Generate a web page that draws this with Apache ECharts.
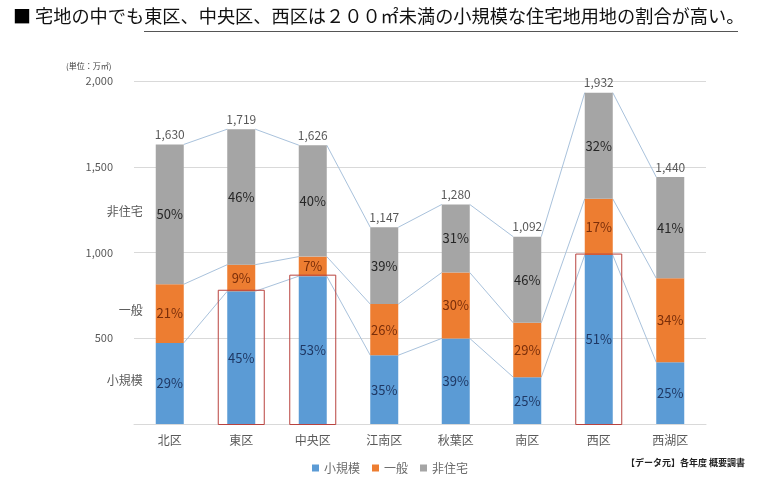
<!DOCTYPE html>
<html>
<head>
<meta charset="utf-8">
<script src="https://cdn.jsdelivr.net/npm/echarts@6/dist/echarts.min.js"></script>
<style>
  html, body { margin: 0; padding: 0; background: #fff; }
  #chart { width: 780px; height: 484px; }
</style>
</head>
<body>
<div id="chart"></div>
<script>
// 区ごとの宅地面積（単位：万㎡）
const categories = ['北区', '東区', '中央区', '江南区', '秋葉区', '南区', '西区', '西湖区']
const totals = [1630, 1719, 1626, 1147, 1280, 1092, 1932, 1440]
const smallVals = [473, 774, 862, 401, 499, 273, 985, 360]
const generalVals = [342, 155, 114, 298, 384, 317, 328, 490]
const nonResVals = [815, 790, 650, 448, 397, 502, 619, 590]
const smallPct = [29, 45, 53, 35, 39, 25, 51, 25]
const generalPct = [21, 9, 7, 26, 30, 29, 17, 34]
const nonResPct = [50, 46, 40, 39, 31, 46, 32, 41]
const highlightIdx = [1, 2, 6]
const seriesNames = ['小規模', '一般', '非住宅']

const FONT = '"Noto Sans CJK JP", "Noto Sans", sans-serif'
const BAR_W = 28

const chart = echarts.init(document.getElementById('chart'))

function pctLabel(arr, color) {
  return {
    show: true,
    position: 'inside',
    fontFamily: FONT,
    fontSize: 13,
    color: color,
    formatter: p => arr[p.dataIndex] + '%'
  }
}

// 系列線（棒と棒をつなぐ線）
function renderConnectors(params, api) {
  const i = api.value(0)
  const levels = [
    [smallVals[i], smallVals[i + 1]],
    [smallVals[i] + generalVals[i], smallVals[i + 1] + generalVals[i + 1]],
    [totals[i], totals[i + 1]]
  ]
  const children = levels.map(lv => {
    const a = api.coord([i, lv[0]])
    const b = api.coord([i + 1, lv[1]])
    return {
      type: 'line',
      shape: { x1: a[0] + BAR_W / 2, y1: a[1], x2: b[0] - BAR_W / 2, y2: b[1] },
      style: { stroke: '#A9C2DC', lineWidth: 1 }
    }
  })
  return { type: 'group', children: children }
}

// 赤枠
function renderBoxes(params, api) {
  const i = api.value(0)
  const top = api.coord([i, smallVals[i]])
  const base = api.coord([i, 0])
  return {
    type: 'rect',
    shape: { x: top[0] - 23, y: top[1] - 1, width: 46, height: base[1] - top[1] + 1.5 },
    style: { fill: 'none', stroke: '#B9433F', lineWidth: 1 }
  }
}

// 合計値ラベル
function renderTotals(params, api) {
  const i = api.value(0)
  const p = api.coord([i, totals[i]])
  return {
    type: 'text',
    x: p[0],
    y: p[1] - 4,
    style: {
      text: totals[i].toLocaleString('en-US'),
      textAlign: 'center',
      textVerticalAlign: 'bottom',
      fontFamily: FONT,
      fontSize: 12,
      fill: '#595959'
    }
  }
}

// 左側の区分ラベル（北区の各区分の中央）
function renderSideLabels(params, api) {
  const mids = [
    smallVals[0] / 2,
    smallVals[0] + generalVals[0] / 2,
    smallVals[0] + generalVals[0] + nonResVals[0] / 2
  ]
  const children = mids.map((m, k) => {
    const p = api.coord([0, m])
    return {
      type: 'text',
      x: p[0] - BAR_W / 2 - 13,
      y: p[1] - 3,
      style: {
        text: seriesNames[k],
        textAlign: 'right',
        textVerticalAlign: 'middle',
        fontFamily: FONT,
        fontSize: 12,
        fill: '#595959'
      }
    }
  })
  return { type: 'group', children: children }
}

const option = {
  backgroundColor: '#fff',
  animation: false,
  textStyle: { fontFamily: FONT },
  grid: { left: 134, right: 74, top: 81, bottom: 60 },
  legend: {
    data: seriesNames,
    left: 'center',
    top: 457,
    icon: 'rect',
    itemWidth: 7,
    itemHeight: 7,
    itemGap: 12,
    textStyle: { fontFamily: FONT, fontSize: 12, color: '#6b6b6b' }
  },
  graphic: [
    {
      type: 'text', left: 13, top: 7,
      style: { text: '■', fontFamily: FONT, fontSize: 18, fill: '#000' }
    },
    {
      type: 'text', left: 35, top: 7,
      style: {
        text: '宅地の中でも東区、中央区、西区は２００㎡未満の小規模な住宅地用地の割合が高い。',
        fontFamily: FONT, fontSize: 18.2, fill: '#111'
      }
    },
    {
      type: 'line',
      shape: { x1: 144, y1: 31.5, x2: 738, y2: 31.5 },
      style: { stroke: '#555', lineWidth: 1 }
    },
    {
      type: 'text', left: 66, top: 62,
      style: { text: '(単位：万㎡)', fontFamily: FONT, fontSize: 8, fill: '#404040' }
    },
    {
      type: 'text', right: 35, top: 458,
      style: { text: '【データ元】各年度 概要調書', fontFamily: FONT, fontSize: 9, fontWeight: 'bold', fill: '#222' }
    }
  ],
  xAxis: {
    type: 'category',
    data: categories,
    axisLine: { lineStyle: { color: '#D9D9D9' } },
    axisTick: { show: false },
    axisLabel: { fontFamily: FONT, fontSize: 12, color: '#595959', margin: 10 }
  },
  yAxis: {
    type: 'value',
    min: 0,
    max: 2000,
    interval: 500,
    axisLine: { show: false },
    axisTick: { show: false },
    splitLine: { lineStyle: { color: '#D9D9D9' } },
    axisLabel: {
      fontFamily: FONT,
      fontSize: 11,
      color: '#595959',
      margin: 21,
      formatter: v => (v === 0 ? '' : v.toLocaleString('en-US'))
    }
  },
  series: [
    {
      name: '小規模', type: 'bar', stack: 'area', barWidth: BAR_W,
      itemStyle: { color: '#5B9BD5' },
      label: pctLabel(smallPct, '#1F3864'),
      data: smallVals
    },
    {
      name: '一般', type: 'bar', stack: 'area', barWidth: BAR_W,
      itemStyle: { color: '#ED7D31' },
      label: pctLabel(generalPct, '#7A2E0A'),
      data: generalVals
    },
    {
      name: '非住宅', type: 'bar', stack: 'area', barWidth: BAR_W,
      itemStyle: { color: '#A5A5A5' },
      label: pctLabel(nonResPct, '#262626'),
      data: nonResVals
    },
    {
      type: 'custom', renderItem: renderConnectors, silent: true, z: 1,
      data: categories.slice(0, -1).map((c, i) => [i, totals[i]])
    },
    {
      type: 'custom', renderItem: renderBoxes, silent: true, z: 5,
      data: highlightIdx.map(i => [i, smallVals[i]])
    },
    {
      type: 'custom', renderItem: renderTotals, silent: true, z: 5,
      data: categories.map((c, i) => [i, totals[i]])
    },
    {
      type: 'custom', renderItem: renderSideLabels, silent: true, z: 5,
      data: [[0, 0]]
    }
  ]
}

chart.setOption(option)
</script>
</body>
</html>
